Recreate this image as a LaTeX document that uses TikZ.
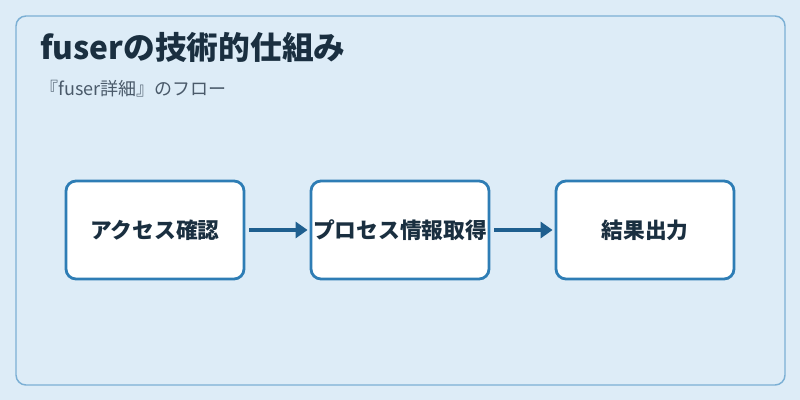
\documentclass[tikz,border=0pt]{standalone}
\usepackage{fontspec}
\setmainfont{Noto Sans CJK JP}
\usetikzlibrary{arrows.meta}
\definecolor{bgc}{HTML}{DDECF7}
\definecolor{framec}{HTML}{7BAFD4}
\definecolor{boxc}{HTML}{2E7DB5}
\definecolor{arrc}{HTML}{1F5F8F}
\definecolor{titlec}{HTML}{1A2F40}
\definecolor{subc}{HTML}{4A5A6A}
\tikzset{
  stepbox/.style={draw=boxc, line width=2.1pt, fill=white, rounded corners=7.5pt,
    minimum width=178*0.75pt, minimum height=98*0.75pt, inner sep=0pt,
    font=\fontsize{16.3pt}{19pt}\selectfont\bfseries, text=titlec},
  flowarrow/.style={draw=arrc, line width=2.9pt, -{Triangle[length=9pt,width=12pt]}},
}
\begin{document}
\begin{tikzpicture}[x=0.75pt,y=-0.75pt]
\fill[bgc] (0,0) rectangle (800,400);
\useasboundingbox (0,0) rectangle (800,400);
\draw[framec, line width=1.1pt, rounded corners=7.5pt] (16,16) rectangle (785,385);
\node[anchor=west, inner sep=0pt, text=titlec, font=\fontsize{23.8pt}{26pt}\selectfont\bfseries] (title) at (40,47) {fuserの技術的仕組み};
\node[anchor=west, inner sep=0pt, text=subc, font=\fontsize{13.5pt}{15pt}\selectfont] (sub) at (40,89) {『fuser詳細』のフロー};
\node[stepbox] (a) at (155,230) {アクセス確認};
\node[stepbox] (b) at (400,230) {プロセス情報取得};
\node[stepbox] (c) at (645,230) {結果出力};
\draw[flowarrow, shorten <=3pt, shorten >=1.5pt] (a.east) -- (b.west);
\draw[flowarrow, shorten <=3pt, shorten >=1.5pt] (b.east) -- (c.west);
\end{tikzpicture}
\end{document}
